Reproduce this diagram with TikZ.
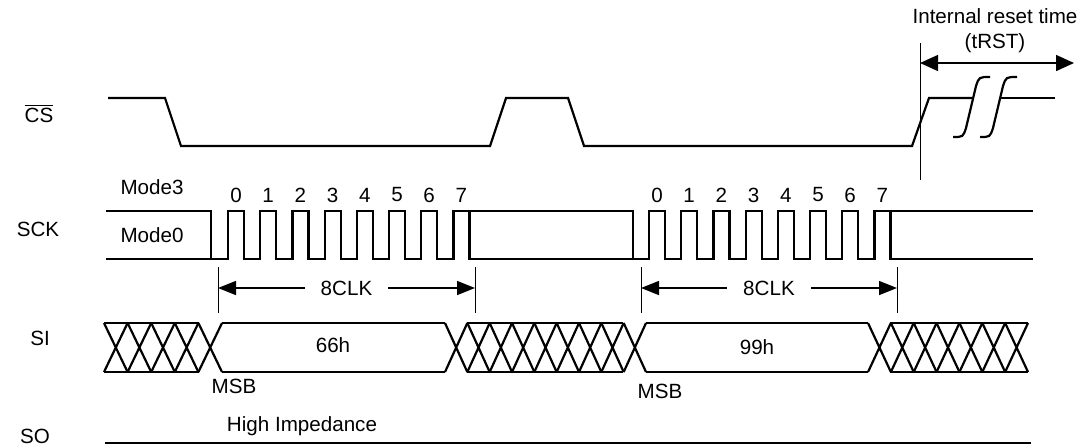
\documentclass[tikz,border=0pt]{standalone}
\usepackage{fontspec}
\setmainfont{Liberation Sans}
\usetikzlibrary{arrows.meta}
\tikzset{sig/.style={line width=1.1pt},guide/.style={line width=0.5pt},dimline/.style={line width=0.75pt,{Triangle[length=9pt,width=7pt]}-{Triangle[length=9pt,width=7pt]}},gap/.style={fill=white,inner xsep=8pt,inner ysep=1pt}}

\begin{document}
\begin{tikzpicture}[x=0.5pt,y=-0.5pt,font=\fontsize{10.3}{12.5}\selectfont]
\useasboundingbox (0,0) rectangle (1085,446);
% signal names
\node (lcs) at (39,113) {$\overline{\mbox{CS}}$};
\node (lsck) at (38,229) {SCK};
\node (lsi) at (40,338) {SI};
\node (lso) at (35,436) {SO};
% CS
\draw[sig] (108,98) -- (165,98) -- (181,146) -- (490,146) -- (506,98) -- (568,98) -- (584,146) -- (912,146) -- (929,98) -- (973,98);
\draw[sig] (1000,98) -- (1055,98);
\foreach \o in {0,27}
  \draw[sig] (953+\o,137) .. controls (963+\o,137) .. (966+\o,128) -- (976+\o,86) .. controls (979+\o,77) .. (990+\o,77);
% reset time
\coordinate (rsttop) at (920,43);
\coordinate (rstbot) at (920,180);
\coordinate (rstL) at (920,63);
\coordinate (rstR) at (1074,63);
\draw[guide] (rsttop) -- (rstbot);
\draw[dimline,{Triangle[length=9pt,width=8pt]}-{Triangle[length=9pt,width=8pt]}] (rstL) -- (rstR);
\node[align=center] (trst) at (995,31) {Internal reset time\\(tRST)};
% SCK
\draw[sig] (106,259) -- (228,259)
  \foreach \k in {0,...,7} { -- ++(0,-48) -- ++(16,0) -- ++(0,48) -- ++(16.2,0) }
  -- (649,259)
  \foreach \k in {0,...,7} { -- ++(0,-48) -- ++(16,0) -- ++(0,48) -- ++(16.2,0) }
  -- (1033,259);
\draw[sig] (106,211) -- (211,211) -- (211,259);
\draw[sig] (469.4,211) -- (633,211) -- (633,259);
\draw[sig] (890.4,211) -- (1033,211);
\node (m3) at (152,187) {Mode3};
\node (m0) at (152,235) {Mode0};
\foreach \k in {0,...,7} {
  \node (na\k) at (236+32.2*\k,195) {\k};
  \node (nb\k) at (657+32.2*\k,195) {\k};
}
% 8 clocks
\foreach \n/\a/\b in {1/218/475,2/641/897} {
  \coordinate (clk\n L) at (\a,288);
  \coordinate (clk\n R) at (\b,288);
  \draw[guide] (\a,267) -- (\a,313) (\b,267) -- (\b,313);
  \draw[dimline] (clk\n L) -- node[gap] (clk\n) {8CLK} (clk\n R);
}
% SI
\foreach \a/\b/\n in {104/222/5,445/646/9,868/1028/7} {
  \pgfmathsetmacro\w{(\b-\a)/\n}
  \foreach \i in {1,...,\n}
    \draw[sig] ({\a+\w*(\i-1)},323) -- ({\a+\w*\i},372) ({\a+\w*(\i-1)},372) -- ({\a+\w*\i},323);
}
\foreach \a/\b in {104/199,222/445,467/623,646/868,890/1028}
  \draw[sig] (\a,323) -- (\b,323) (\a,372) -- (\b,372);
\node (d1) at (333,345) {66h};
\node (d2) at (757,347) {99h};
\node (msb1) at (234,386) {MSB};
\node (msb2) at (660,391) {MSB};
% SO
\draw[sig] (105,443) -- (1031,443);
\node (hiz) at (302,426) {High Impedance};
\end{tikzpicture}
\end{document}
